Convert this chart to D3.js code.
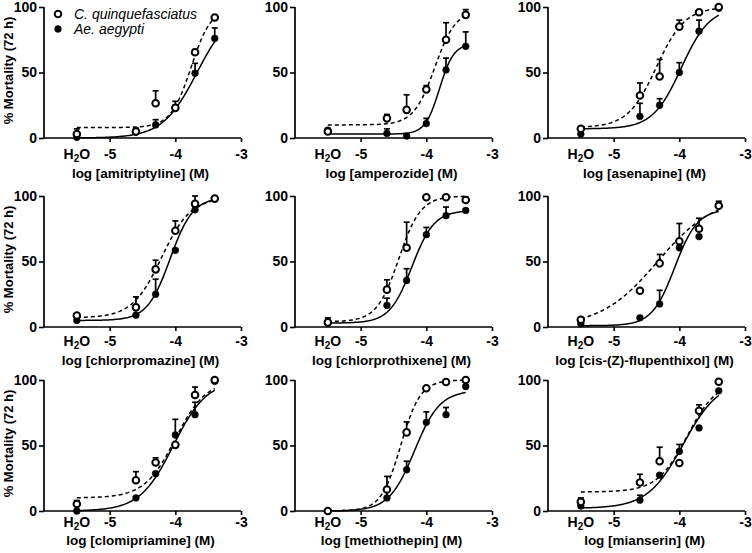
<!DOCTYPE html>
<html>
<head>
<meta charset="utf-8">
<script src="https://cdn.jsdelivr.net/npm/d3@7"></script>
<style>
  body { margin: 0; background: #fff; }
  svg text { font-family: "Liberation Sans", Arial, sans-serif; }
</style>
</head>
<body>
<svg id="chart" width="752" height="553"></svg>
<script>
// drug names, in reading order (left to right, top to bottom)
const drugs = ["amitriptyline", "amperozide", "asenapine",
               "chlorpromazine", "chlorprothixene", "cis-(Z)-flupenthixol",
               "clomipriamine", "methiothepin", "mianserin"];

// log dose of each point, H2O control plotted at -5.5
const doses = [-5.5, -4.6, -4.3, -4.0, -3.7, -3.4];
const xTicks = [-5, -4, -3];
const yTicks = [0, 50, 100];

// C. quinquefasciatus: mean % mortality and SEM (upper bar only)
const culexMean = [
  [3, 5, 26.5, 23, 65.5, 92],
  [5, 15, 21.5, 37, 75, 94],
  [7, 32.5, 47, 85, 96, 100],
  [8.8, 15, 44, 73.5, 94, 98],
  [3.5, 28.5, 60.5, 99, 99, 97],
  [5.5, 27.7, 48.6, 65.5, 75, 92.5],
  [5.3, 23.5, 37, 50.5, 88.6, 100],
  [0, 16.4, 60, 93.7, 98.5, 100],
  [7, 21.7, 38, 36.6, 76.5, 98.7]
];
const culexSem = [
  [4, 2, 9.5, 5, 2, 1],
  [1, 3, 11.5, 3, 13, 4],
  [1, 9.5, 13, 5, 1, 0],
  [1, 8, 7, 7.5, 6, 1],
  [3.5, 7.5, 19.5, 0, 0, 2],
  [1, 1, 6.8, 13.5, 8, 1],
  [2.7, 6.5, 3.6, 1, 6, 0],
  [0.5, 10, 8, 1, 1, 0],
  [3, 6.3, 10.7, 1, 4.5, 0]
];

// Ae. aegypti
const aedesMean = [
  [0.5, 4.5, 10, 23, 49.5, 76],
  [6, 3.5, 1.5, 11, 52, 70],
  [3, 16.5, 25, 50, 81.5, 99],
  [5, 9, 25, 58.5, 89.5, 98],
  [3, 16.5, 35.5, 70.5, 85, 89],
  [2.5, 7, 17.6, 60.5, 69, 93],
  [0, 10, 28.5, 58, 73.5, 99],
  [0, 10, 31.5, 67.7, 73.5, 95],
  [3.8, 8.3, 27.3, 45.5, 63.4, 91.7]
];
const aedesSem = [
  [1, 3, 4, 2, 7.5, 8],
  [1, 3.5, 1, 4, 9, 11],
  [1, 10, 5, 7.5, 8.5, 1],
  [1, 1, 11.5, 1, 1, 1],
  [1, 5.5, 9, 5.5, 6.6, 1],
  [1, 1, 10.4, 1, 1, 3],
  [0.5, 1, 1, 12, 9.5, 1],
  [0.5, 7, 6.5, 8, 5.5, 1],
  [1, 3.7, 1, 5.3, 1, 1]
];

// fitted dose-response curves: [bottom, top, logEC50, hill slope]
const culexFit = [
  [8, 100, -3.76, 2.8],
  [10, 98, -3.87, 2.7],
  [8, 100, -4.35, 2.0],
  [7, 99, -4.21, 1.95],
  [4, 100, -4.42, 2.6],
  [0, 100, -4.33, 1.0],
  [10, 100, -4.0, 1.85],
  [0, 100, -4.39, 2.9],
  [14.5, 100, -3.88, 1.9]
];
const aedesFit = [
  [0, 100, -3.67, 1.65],
  [3, 72, -3.8, 4],
  [7, 100, -3.97, 2.0],
  [5, 99, -4.08, 2.5],
  [3, 89, -4.22, 2.56],
  [1, 90, -4.07, 2.5],
  [0, 100, -4.03, 1.7],
  [0, 92, -4.18, 2.24],
  [2, 100, -3.94, 1.6]
];

const legendNames = ["C. quinquefasciatus", "Ae. aegypti"];

// layout
const colX = [44, 295, 548];
const rowY = [7, 196, 380];
const labelGap = [21, 19, 15.5];   // x tick label baseline below the axis
const titleGap = [40, 38, 34];     // x title baseline below the axis
const plotW = 197, plotH = 131;

const svg = d3.select('#chart');

function hill(p, x) {
    return p[0] + (p[1] - p[0]) / (1 + Math.pow(10, (p[2] - x) * p[3]));
}

drugs.forEach(function (drug, i) {
    const row = Math.floor(i / 3);
    const g = svg.append('g')
        .attr('transform', 'translate(' + colX[i % 3] + ',' + rowY[row] + ')');

    const x = d3.scaleLinear().domain([-6, -3]).range([0, plotW]);
    const y = d3.scaleLinear().domain([0, 100]).range([plotH, 0]);

    // axes
    const yAxis = g.append('g')
        .call(d3.axisLeft(y).tickValues(yTicks).tickSize(5).tickPadding(2));
    const xAxis = g.append('g')
        .attr('transform', 'translate(0,' + plotH + ')')
        .call(d3.axisBottom(x).tickValues(xTicks).tickSize(4)
            .tickFormat(d3.format('d')));
    [xAxis, yAxis].forEach(function (a) {
        a.select('.domain').attr('stroke-width', 1.7).attr('d',
            a === xAxis ? 'M0,0H' + plotW : 'M0,0V' + plotH);
        a.selectAll('.tick line').attr('stroke-width', 1.6);
        a.selectAll('.tick text')
            .attr('font-size', 14)
            .attr('font-weight', 'bold')
            .attr('font-family', '"Liberation Sans", Arial, sans-serif')
            .attr('fill', '#000');
    });
    xAxis.selectAll('.tick text')
        .attr('dy', null)
        .attr('y', labelGap[row])
        .text(function (d) { return String(d); });

    // H2O label for the control point
    const h2o = g.append('text')
        .attr('x', x(doses[0]))
        .attr('y', plotH + labelGap[row])
        .attr('text-anchor', 'middle')
        .attr('font-size', 14)
        .attr('font-weight', 'bold');
    h2o.append('tspan').text('H');
    h2o.append('tspan').attr('font-size', 10).attr('dy', 3).text('2');
    h2o.append('tspan').attr('dy', -3).text('O');

    // axis title
    g.append('text')
        .attr('x', plotW / 2 - 2)
        .attr('y', plotH + titleGap[row])
        .attr('text-anchor', 'middle')
        .attr('font-size', 13.5)
        .attr('font-weight', 'bold')
        .text('log [' + drug + '] (M)');

    if (i % 3 === 0) {
        g.append('text')
            .attr('transform', 'translate(' + (-31) + ',' + (plotH / 2 - 2) + ') rotate(-90)')
            .attr('text-anchor', 'middle')
            .attr('font-size', 13)
            .attr('font-weight', 'bold')
            .text('% Mortality (72 h)');
    }

    // fitted curves
    const line = d3.line()
        .x(function (d) { return x(d[0]); })
        .y(function (d) { return y(d[1]); });
    const xs = d3.range(doses[0], doses[doses.length - 1] + 0.001, 0.02);
    g.append('path')
        .attr('d', line(xs.map(function (v) { return [v, hill(culexFit[i], v)]; })))
        .attr('fill', 'none')
        .attr('stroke', '#000')
        .attr('stroke-width', 1.5)
        .attr('stroke-dasharray', '4,3');
    g.append('path')
        .attr('d', line(xs.map(function (v) { return [v, hill(aedesFit[i], v)]; })))
        .attr('fill', 'none')
        .attr('stroke', '#000')
        .attr('stroke-width', 1.5);

    // error bars (upper only) + markers
    const series = [
        { mean: aedesMean[i], sem: aedesSem[i], open: false },
        { mean: culexMean[i], sem: culexSem[i], open: true }
    ];
    series.forEach(function (s) {
        doses.forEach(function (d, k) {
            const cx = x(d), top = y(s.mean[k] + s.sem[k]);
            if (s.sem[k] > 0) {
                g.append('line')
                    .attr('x1', cx).attr('x2', cx)
                    .attr('y1', y(s.mean[k])).attr('y2', top)
                    .attr('stroke', '#000').attr('stroke-width', 1.7);
                g.append('line')
                    .attr('x1', cx - 3).attr('x2', cx + 3)
                    .attr('y1', top).attr('y2', top)
                    .attr('stroke', '#000').attr('stroke-width', 1.7);
            }
        });
        g.selectAll(null)
            .data(doses)
            .enter()
            .append('circle')
            .attr('cx', function (d) { return x(d); })
            .attr('cy', function (d, k) { return y(s.mean[k]); })
            .attr('r', s.open ? 3.3 : 3.4)
            .attr('fill', s.open ? '#fff' : '#000')
            .attr('stroke', '#000')
            .attr('stroke-width', s.open ? 2 : 0.5);
    });

    // legend in the first panel
    if (i === 0) {
        legendNames.forEach(function (name, k) {
            g.append('circle')
                .attr('cx', 14)
                .attr('cy', 7 + k * 15)
                .attr('r', k === 0 ? 3.3 : 3.4)
                .attr('fill', k === 0 ? '#fff' : '#000')
                .attr('stroke', '#000')
                .attr('stroke-width', k === 0 ? 2 : 0.5);
            g.append('text')
                .attr('x', 30)
                .attr('y', 7 + k * 15 + 5)
                .attr('font-size', 14)
                .attr('font-style', 'italic')
                .text(name);
        });
    }
});
</script>
</body>
</html>
